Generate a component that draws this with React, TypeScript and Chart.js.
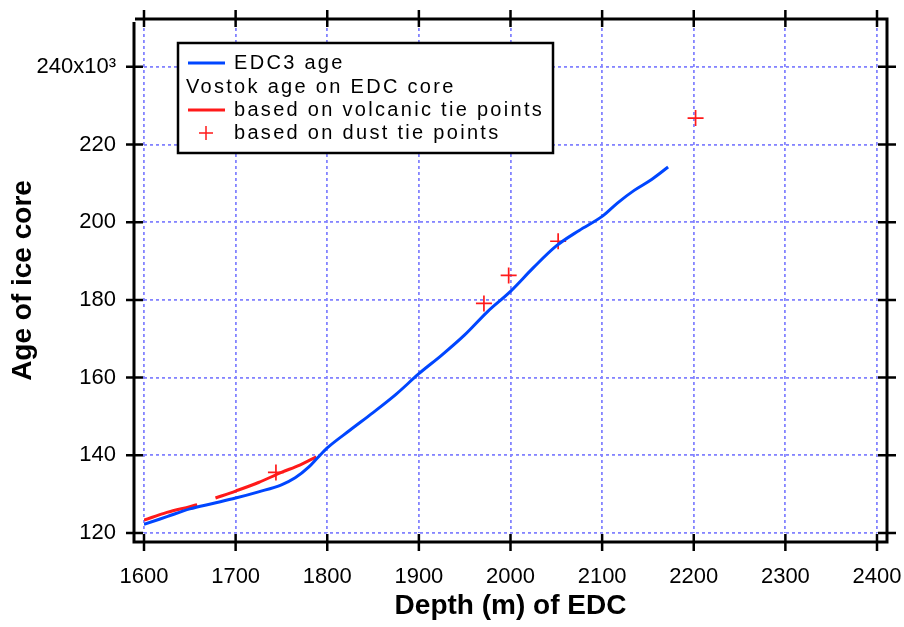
import React, { useEffect, useRef } from 'react';
import { Chart, registerables } from 'chart.js';

Chart.register(...registerables);

// ---- data ----
const xTicks = [1600, 1700, 1800, 1900, 2000, 2100, 2200, 2300, 2400];
const yTicks = [120, 140, 160, 180, 200, 220, 240];
const yTickLabels = ['120', '140', '160', '180', '200', '220', '240x10\u00B3'];

const edc3Depth = [1600, 1625, 1650, 1675, 1700, 1725, 1750, 1765, 1780, 1790, 1800, 1825, 1850, 1875, 1900, 1925, 1950, 1975, 2000, 2025, 2050, 2075, 2100, 2117, 2135, 2154, 2172];
const edc3Age = [122.2, 124.2, 126.2, 127.6, 129.0, 130.6, 132.4, 134.2, 137.0, 139.5, 141.9, 146.5, 151.0, 155.7, 161.0, 165.8, 171.0, 177.0, 182.2, 188.3, 193.9, 197.9, 201.5, 205.0, 208.2, 211.0, 214.2];

const volcDepth = [1600, 1625, 1650, 1658, 1668, 1678, 1700, 1725, 1750, 1770, 1788];
const volcAge = [123.3, 125.3, 126.8, 127.3, null, 129.0, 130.8, 133.0, 135.6, 137.5, 139.6];

const dustDepth = [1744, 1971, 1998, 2052, 2202];
const dustAge = [135.6, 179.1, 186.3, 195.1, 226.8];

const legendHeader = 'Vostok age on EDC core';
const xTitle = 'Depth (m) of EDC';
const yTitle = 'Age of ice core';

const BLUE = '#0046ff';
const RED = '#ff1a1a';
const GRID = '#8484ff';
const FONT = "'Liberation Sans', Arial, sans-serif";

function pts(xs: number[], ys: (number | null)[]) {
  return xs.map((x, i) => ({ x, y: ys[i] }));
}

export default function App() {
  const ref = useRef<HTMLCanvasElement>(null);

  useEffect(() => {
    if (!ref.current) return;

    const framePlugin = {
      id: 'frame',
      afterDraw(chart: any) {
        const { ctx, chartArea } = chart;
        const xs = chart.scales.x;
        const ys = chart.scales.y;
        const L = chartArea.left - 10;
        const R = chartArea.right + 10;
        const T = chartArea.top - 9;
        const B = chartArea.bottom + 9;
        ctx.save();
        ctx.strokeStyle = '#000';
        ctx.lineWidth = 3;
        ctx.lineCap = 'butt';
        ctx.beginPath();
        ctx.moveTo(L, T + 3); ctx.lineTo(L, B + 1.5);
        ctx.moveTo(L - 1.5, B); ctx.lineTo(R + 1.5, B);
        ctx.moveTo(R, B + 1.5); ctx.lineTo(R, T - 1.5);
        ctx.moveTo(R + 1.5, T); ctx.lineTo(L + 1, T);
        ctx.stroke();
        ctx.lineWidth = 2.5;
        ctx.beginPath();
        for (const v of xTicks) {
          const px = xs.getPixelForValue(v);
          ctx.moveTo(px, B - 8); ctx.lineTo(px, B + 9);
          ctx.moveTo(px, T - 9); ctx.lineTo(px, T + 8);
        }
        for (const v of yTicks) {
          const py = ys.getPixelForValue(v);
          ctx.moveTo(L - 8, py); ctx.lineTo(L + 9, py);
          ctx.moveTo(R - 9, py); ctx.lineTo(R + 9, py);
        }
        ctx.stroke();
        ctx.restore();
      },
    };

    const legendPlugin = {
      id: 'legendBox',
      afterDatasetsDraw(chart: any) {
        const { ctx } = chart;
        const ds = chart.data.datasets;
        const bx = 178, by = 43, bw = 375, bh = 110;
        ctx.save();
        ctx.fillStyle = '#fff';
        ctx.fillRect(bx, by, bw, bh);
        ctx.strokeStyle = '#000';
        ctx.lineWidth = 2.5;
        ctx.strokeRect(bx, by, bw, bh);
        ctx.font = `20px ${FONT}`;
        try { (ctx as any).letterSpacing = '2.3px'; } catch (e) {}
        ctx.fillStyle = '#000';
        ctx.textBaseline = 'middle';
        ctx.textAlign = 'left';
        const rows = [63, 87, 110, 133];
        ctx.strokeStyle = ds[0].borderColor;
        ctx.lineWidth = 3;
        ctx.beginPath(); ctx.moveTo(188, rows[0]); ctx.lineTo(225, rows[0]); ctx.stroke();
        ctx.fillText(ds[0].label, 234, rows[0]);
        ctx.fillText(legendHeader, 186, rows[1]);
        ctx.strokeStyle = ds[1].borderColor;
        ctx.beginPath(); ctx.moveTo(188, rows[2]); ctx.lineTo(225, rows[2]); ctx.stroke();
        ctx.fillText(ds[1].label, 234, rows[2]);
        ctx.strokeStyle = ds[2].borderColor;
        ctx.lineWidth = 1.5;
        ctx.beginPath();
        ctx.moveTo(199, rows[3]); ctx.lineTo(213, rows[3]);
        ctx.moveTo(206, rows[3] - 7); ctx.lineTo(206, rows[3] + 7);
        ctx.stroke();
        ctx.fillText(ds[2].label, 234, rows[3]);
        ctx.restore();
      },
    };

    const chart = new Chart(ref.current, {
      type: 'scatter',
      data: {
        datasets: [
          {
            label: 'EDC3 age',
            data: pts(edc3Depth, edc3Age),
            showLine: true,
            borderColor: BLUE,
            backgroundColor: BLUE,
            borderWidth: 3,
            pointRadius: 0,
            cubicInterpolationMode: 'monotone',
          },
          {
            label: 'based on volcanic tie points',
            data: pts(volcDepth, volcAge),
            showLine: true,
            spanGaps: false,
            borderColor: RED,
            backgroundColor: RED,
            borderWidth: 3,
            pointRadius: 0,
            cubicInterpolationMode: 'monotone',
          },
          {
            label: 'based on dust tie points',
            data: pts(dustDepth, dustAge),
            showLine: false,
            borderColor: RED,
            backgroundColor: RED,
            pointStyle: 'cross',
            pointRadius: 8,
            borderWidth: 1.7,
          },
        ],
      } as any,
      options: {
        animation: false,
        responsive: true,
        maintainAspectRatio: false,
        layout: { padding: { top: 28, right: 27, left: 0, bottom: 0 } },
        plugins: { legend: { display: false }, tooltip: { enabled: false } },
        scales: {
          x: {
            type: 'linear',
            min: 1600,
            max: 2400,
            afterFit: (s: any) => {
              s.height = 94;
              s.paddingLeft = 0;
              s.paddingRight = 0;
            },
            afterBuildTicks: (s: any) => { s.ticks = xTicks.map((v) => ({ value: v })); },
            ticks: {
              stepSize: 100,
              padding: 31,
              color: '#000',
              font: { family: FONT, size: 22 },
              callback: (v: any) => String(v),
            },
            grid: { color: GRID, lineWidth: 1.8, drawTicks: false },
            border: { display: false, dash: [3, 3] },
            title: {
              display: true,
              text: xTitle,
              color: '#000',
              font: { family: FONT, size: 28, weight: 'bold' },
              padding: { top: 0, bottom: 4 },
            },
          },
          y: {
            type: 'linear',
            min: 120,
            max: 250,
            afterFit: (s: any) => {
              s.width = 144;
              s.paddingTop = 0;
              s.paddingBottom = 0;
            },
            afterBuildTicks: (s: any) => { s.ticks = yTicks.map((v) => ({ value: v })); },
            ticks: {
              stepSize: 20,
              padding: 28,
              color: '#000',
              font: { family: FONT, size: 22 },
              callback: (v: any) => {
                const i = yTicks.indexOf(Number(v));
                return i >= 0 ? yTickLabels[i] : '';
              },
            },
            grid: { color: GRID, lineWidth: 1.8, drawTicks: false },
            border: { display: false, dash: [3, 3] },
            title: {
              display: true,
              text: yTitle,
              color: '#000',
              font: { family: FONT, size: 28, weight: 'bold' },
              padding: { top: 6, bottom: 0 },
            },
          },
        },
      } as any,
      plugins: [legendPlugin, framePlugin],
    });

    return () => chart.destroy();
  }, []);

  return (
    <div style={{ position: 'fixed', left: 0, top: 0, width: 904, height: 627, background: '#fff' }}>
      <canvas ref={ref} />
    </div>
  );
}
